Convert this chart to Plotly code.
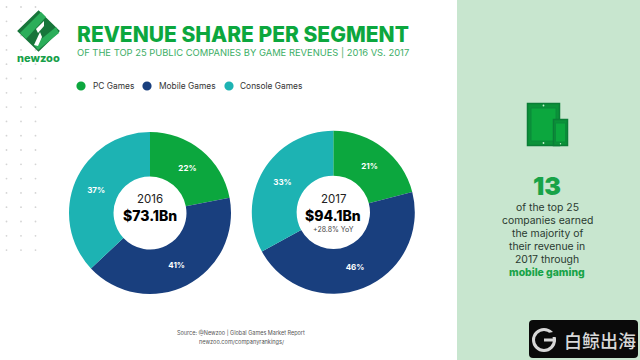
import plotly.graph_objects as go

W, H = 640, 360
categories = ["PC Games", "Mobile Games", "Console Games"]
values_2016 = [22, 41, 37]
values_2017 = [21, 46, 33]
colors = ["#0CA73E", "#193F7E", "#1DB3B3"]
years = ["2016", "2017"]
totals = ["$73.1Bn", "$94.1Bn"]
yoy = "+28.8% YoY"
side_lines = ["of the top 25", "companies earned", "the majority of", "their revenue in", "2017 through"]

FONT = "Inter"
GREEN = "#0CA73E"

def px(x): return x / W
def py(y): return 1 - y / H

def dom(cx, cy, r):
    return dict(x=[px(cx - r), px(cx + r)], y=[py(cy + r), py(cy - r)])

def pie(vals, cx, cy, r, name):
    return go.Pie(labels=categories, values=vals, name=name, domain=dom(cx, cy, r), hole=0.45,
                  sort=False, direction="clockwise", rotation=0,
                  marker=dict(colors=colors, line=dict(width=0)),
                  texttemplate="%{value}%", textposition="inside", insidetextorientation="horizontal",
                  textfont=dict(family=FONT, size=8, color="white", weight=700),
                  showlegend=False, hoverinfo="label+value")

fig = go.Figure([pie(values_2016, 150, 213, 81, "2016"), pie(values_2017, 333.3, 212.3, 81.5, "2017")])

shapes, ann = [], []

def rect(x0, y0, x1, y1, fill, line=None, lw=0):
    shapes.append(dict(type="rect", xref="paper", yref="paper", x0=px(x0), x1=px(x1), y0=py(y0), y1=py(y1),
                       fillcolor=fill, line=dict(color=line or fill, width=lw), layer="below"))

def circ(cx, cy, r, fill, layer="below", line=None, lw=0):
    shapes.append(dict(type="circle", xref="paper", yref="paper", x0=px(cx - r), x1=px(cx + r), y0=py(cy + r), y1=py(cy - r),
                       fillcolor=fill, line=dict(color=line or fill, width=lw), layer=layer))

def poly(pts, fill, line=None, lw=0):
    d = "M " + " L ".join(f"{px(x):.5f},{py(y):.5f}" for x, y in pts) + " Z"
    shapes.append(dict(type="path", xref="paper", yref="paper", path=d, fillcolor=fill,
                       line=dict(color=line or fill, width=lw), layer="below"))

def text(x, y, s, size, color, anchor="center", weight=400, family=FONT):
    ann.append(dict(xref="paper", yref="paper", x=px(x), y=py(y), text=s, showarrow=False, xanchor=anchor, yanchor="middle",
                    font=dict(family=family, size=size, color=color, weight=weight), borderpad=0, borderwidth=0))

# side panel
rect(457, 0, 640, 360, "#C8E6CF")
# dots
for k in range(18):
    for x in (6.5, 21, 35.5):
        circ(x, 7 + 14.3 * k, 0.9, "#D4D4D4")

# logo
poly([(38.5, 13), (57, 31), (38.5, 49), (20, 31)], "#17753A", "#17753A", 4)
poly([(41, 12), (46, 17), (26, 39), (20, 33)], "#2BAE5A")
poly([(56, 27), (59, 33), (38, 50), (34, 45)], "#2BAE5A")
poly([(44, 21), (44, 26), (38, 33), (36, 29)], "#FFFFFF")
poly([(40, 32), (42, 37), (38, 46), (34, 45)], "#FFFFFF")
text(38.5, 58.5, "newzoo", 11, "#17A04A", weight=800)

# titles
text(77, 34, "REVENUE SHARE PER SEGMENT", 21, GREEN, "left", 800)
text(77, 52.5, "OF THE TOP 25 PUBLIC COMPANIES BY GAME REVENUES | 2016 VS. 2017", 9.4, "#3DAE66", "left")

# legend
for cx, tx, cat, col in zip((81, 147, 229), (93, 159, 240), categories, colors):
    circ(cx, 86, 4.6, col)
    text(tx, 86, cat, 8.4, "#333333", "left")

# centres
for cx, y, t in zip((150, 333.3), years, totals):
    text(cx, 199, y, 11.5, "#222222")
    text(cx, 215.5, t, 14, "#000000", weight=800)
text(333.3, 229, yoy, 7, "#444444")

# source
text(240.5, 332.5, "Source: @Newzoo | Global Games Market Report", 5.5, "#555555")
text(241, 342, "newzoo.com/companyrankings/", 5.6, "#555555")

# side icon
rect(527.5, 103.5, 559.5, 145.5, "#0B9239", "#0B7D37", 1.5)
rect(531, 108, 556, 141, "#0CA73E", "#0B8A3A", 1)
circ(543.5, 105.5, 0.9, "#C8F0D0")
circ(543.5, 143, 0.9, "#C8F0D0")
rect(553.5, 119.5, 567.5, 145.5, "#0B9239", "#0B7D37", 1.5)
rect(555.5, 123, 565.5, 142, "#0CA73E", "#0B8A3A", 1)
circ(560.5, 143.8, 0.7, "#C8F0D0")

# side text
text(547, 186, "13", 25, "#18A348", weight=900)
for i, s in enumerate(side_lines):
    text(547, 208 + 12.8 * i, s, 10.4, "#2A3A30")
text(547, 272, "mobile gaming", 10.4, "#18A348", weight=800)

# watermark
rr = 4
x0, x1, y0, y1 = 529, 638, 320, 358
shapes.append(dict(type="path", xref="paper", yref="paper",
    path=f"M {px(x0+rr)},{py(y0)} L {px(x1-rr)},{py(y0)} Q {px(x1)},{py(y0)} {px(x1)},{py(y0+rr)} L {px(x1)},{py(y1-rr)} "
         f"Q {px(x1)},{py(y1)} {px(x1-rr)},{py(y1)} L {px(x0+rr)},{py(y1)} Q {px(x0)},{py(y1)} {px(x0)},{py(y1-rr)} "
         f"L {px(x0)},{py(y0+rr)} Q {px(x0)},{py(y0)} {px(x0+rr)},{py(y0)} Z",
    fillcolor="#0A0A0A", line=dict(width=0), layer="below"))
circ(544, 340, 10.5, "#0A0A0A", line="#D8D8D8", lw=3)
poly([(548, 333), (558, 331), (558, 337), (548, 337)], "#0A0A0A")
rect(544, 338.5, 556, 341.5, "#D8D8D8")
text(599.5, 339.5, "白鲸出海", 18, "#D8D8D8", weight=500, family="Noto Sans CJK SC")

fig.update_layout(width=W, height=H, margin=dict(l=0, r=0, t=0, b=0), paper_bgcolor="white", plot_bgcolor="white",
                  shapes=shapes, annotations=ann, showlegend=False)
fig.write_html("out.html", config=dict(displayModeBar=False),
               post_script="document.body.style.margin='0';document.documentElement.style.overflow='hidden';window.dispatchEvent(new Event('resize'));")
